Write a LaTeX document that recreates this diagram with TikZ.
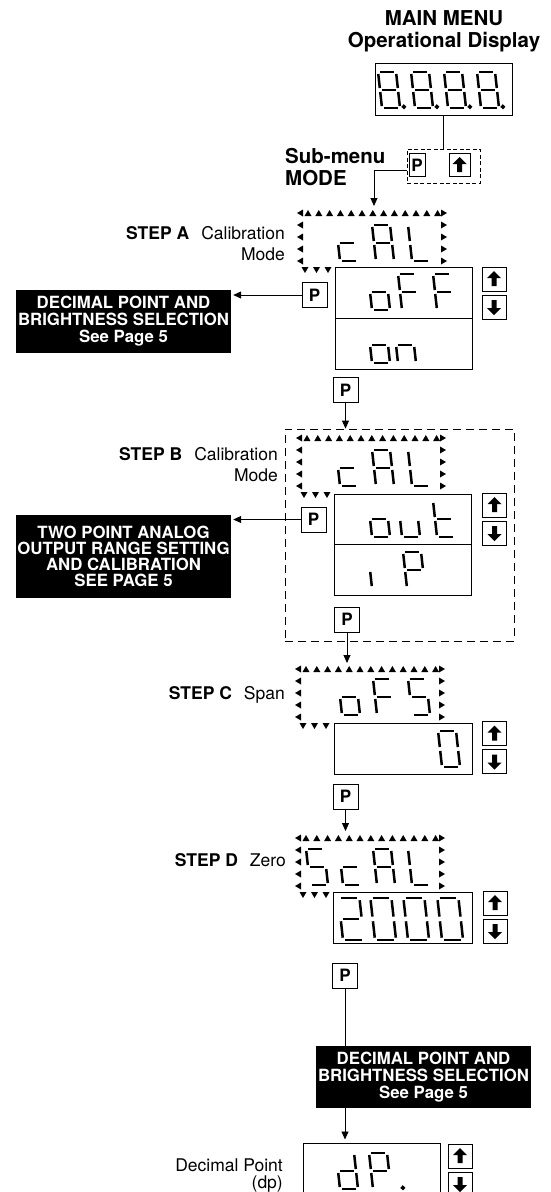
\documentclass[tikz,border=0pt]{standalone}
\usepackage{fontspec}
\setmainfont{TeX Gyre Heros}
\usetikzlibrary{positioning,arrows.meta}

% seven segment digit, 18 x 36, origin at the lower left
\def\sega{(2,36) -- (16,36)}
\def\segb{(18,34) -- (18,20)}
\def\segc{(18,16) -- (18,2)}
\def\segd{(2,0) -- (16,0)}
\def\sege{(0,2) -- (0,16)}
\def\segf{(0,20) -- (0,34)}
\def\segg{(2,18) -- (16,18)}
\def\segp{(22,1.2) circle[radius=0.8]}

% characters
\def\dgEight{a,b,c,d,e,f,g,p}
\def\dgZero{a,b,c,d,e,f}
\def\dgTwo{a,b,d,e,g}
\def\dgS{a,c,d,f,g}
\def\dgA{a,b,c,e,f,g}
\def\dgF{a,e,f,g}
\def\dgL{d,e,f}
\def\dgP{a,b,e,f,g}
\def\dgc{d,e,g}
\def\dgd{b,c,d,e,g}
\def\dgo{c,d,e,g}
\def\dgn{c,e,g}
\def\dgu{c,d,e}
\def\dgt{d,e,f,g}
\def\dgi{e}
\def\dgdot{p}

\begin{document}
\begin{tikzpicture}[x=1pt, y=-1pt,
    every node/.style={inner sep=0pt},
    txt/.style={font=\fontsize{17.5}{21}\selectfont},
    head/.style={font=\fontsize{20.5}{22}\selectfont\bfseries},
    lcd/.style={draw, line width=1pt, minimum width=137pt, minimum height=51pt},
    key/.style={draw, line width=1pt, minimum width=25pt, minimum height=25pt,
        font=\fontsize{17}{17}\selectfont\bfseries},
    arrkey/.style={draw, line width=1pt, minimum width=24pt, minimum height=24pt},
    upkey/.style={arrkey, path picture={\fill[shift={(path picture bounding box.center)}]
        (0,-8) -- (7,-1) -- (2.5,-1) -- (2.5,7) -- (-2.5,7) -- (-2.5,-1) -- (-7,-1) -- cycle;}},
    downkey/.style={arrkey, path picture={\fill[shift={(path picture bounding box.center)}]
        (0,8) -- (7,1) -- (2.5,1) -- (2.5,-7) -- (-2.5,-7) -- (-2.5,1) -- (-7,1) -- cycle;}},
    note/.style={fill=black, text=white, align=center, minimum width=215pt,
        font=\fontsize{16.8}{17}\selectfont\bfseries},
    arr/.style={-{Triangle[length=8pt,width=7pt]}, line width=0.9pt},
    segline/.style={line width=2.5pt},
    pics/digit/.style={code={
        \edef\dglist{#1}
        \begin{scope}[yscale=-1, xslant=0.11]
          \foreach \s in \dglist {\draw[segline] \csname seg\s\endcsname;}
        \end{scope}}},
    pics/blink/.style={code={
        \foreach \i in {0,...,12} \fill (8+\i*10.8,0) ++(-3.5,3) -- ++(7,0) -- ++(-3.5,-6) -- cycle;
        \foreach \j in {0,...,4} {
          \fill (0,\j*12) ++(3,-3.5) -- ++(0,7) -- ++(-6,-3.5) -- cycle;
          \fill (144,\j*12) ++(-3,-3.5) -- ++(0,7) -- ++(6,-3.5) -- cycle;
        }
        \foreach \i in {0,1,2} \fill (5+\i*11.5,57) ++(-3.5,-3) -- ++(7,0) -- ++(-3.5,6) -- cycle;}}
]
\useasboundingbox (0,0) rectangle (550,1192);

% main menu
\node[head, anchor=base] (mm) at (444,25) {MAIN MENU};
\node[head, anchor=base] (od) at (444,47) {Operational Display};
\node[lcd, minimum height=52pt] (disp) at (443.5,89) {};
\foreach \x in {382,415,448,481} \pic at (\x,108) {digit=\dgEight};
\node[draw, line width=0.8pt, dash pattern=on 4pt off 2.5pt,
    minimum width=73pt, minimum height=34pt] (mkeys) at (443.5,166) {};
\node[key, minimum width=16pt, minimum height=23pt] (mp) at (417,165) {P};
\node[upkey, minimum width=21pt, minimum height=23pt] (mup) at (459.5,165) {};
\node[head, anchor=base west] (sub) at (285,163) {Sub-menu};
\node[head, anchor=base west] (mode) at (285,185) {MODE};
\draw[line width=0.9pt] (disp.south) -- (mkeys.north);
\coordinate (inA) at (374,206);
\draw[arr] ([yshift=-4pt]mkeys.west) -| (inA);

% step A
\pic at (300,213) {blink};
\foreach \x/\ch in {340/\dgc, 376/\dgA, 412/\dgL} \pic at (\x,261) {digit=\ch};
\node[lcd] (offA) at (403.5,292.5) {};
\node[lcd] (onA) at (403.5,343.5) {};
\foreach \x/\ch in {372/\dgo, 402/\dgF, 437/\dgF} \pic at (\x,310) {digit=\ch};
\foreach \x/\ch in {372/\dgo, 398/\dgn} \pic at (\x,363) {digit=\ch};
\node[upkey] (upA) at (494,279) {};
\node[downkey, below=3pt of upA] (dnA) {};
\node[txt, anchor=base east] (stA) at (285,239) {\textbf{STEP A}\hspace{12pt}Calibration};
\node[txt, anchor=base east] (mdA) at (285,260) {Mode};
\node[key] (pA) at (314.5,295) {P};
\node[note, minimum height=63pt] (dpA) at (123.5,321.5)
    {DECIMAL POINT AND\\BRIGHTNESS SELECTION\\See Page 5};
\draw[arr, shorten >=2pt] (pA.west) -- (pA.west -| dpA.east);
\node[key] (pnA) at (345.5,390) {P};

% step B
\node[draw, line width=0.9pt, dash pattern=on 8pt off 5pt,
    minimum width=229pt, minimum height=212pt] (boxB) at (399.5,535) {};
\draw[arr] (pnA.south) -- (pnA.south |- boxB.north);
\pic at (299,438) {blink};
\foreach \x/\ch in {340/\dgc, 376/\dgA, 412/\dgL} \pic at (\x,486) {digit=\ch};
\node[lcd, minimum height=50pt] (outB) at (402.5,519) {};
\node[lcd] (ipB) at (402.5,569.5) {};
\foreach \x/\ch in {372/\dgo, 402/\dgu, 437/\dgt} \pic at (\x,537) {digit=\ch};
\foreach \x/\ch in {372/\dgi, 407/\dgP} \pic at (\x,588) {digit=\ch};
\node[upkey] (upB) at (494.5,505) {};
\node[downkey, below=3pt of upB] (dnB) {};
\node[txt, anchor=base east] (stB) at (278,460) {\textbf{STEP B}\hspace{12pt}Calibration};
\node[txt, anchor=base east] (mdB) at (278,481) {Mode};
\node[key] (pB) at (313.5,519.5) {P};
\node[note, minimum height=83pt, font=\fontsize{16.8}{16}\selectfont\bfseries] (anB) at (123.5,556.5)
    {TWO POINT ANALOG\\OUTPUT RANGE SETTING\\AND CALIBRATION\\SEE PAGE 5};
\draw[arr, shorten >=2pt] (pB.west) -- (pB.west -| anB.east);
\node[key] (pnB) at (347,619.5) {P};
\coordinate (inC) at (347,663);
\draw[arr] (pnB.south) -- (inC);

% step C
\pic at (298,669) {blink};
\foreach \x/\ch in {342/\dgo, 377/\dgF, 412/\dgS} \pic at (\x,715) {digit=\ch};
\node[lcd, minimum width=138pt] (ofsC) at (403,748.5) {};
\pic at (442,767) {digit=\dgZero};
\node[upkey] (upC) at (494.5,733.5) {};
\node[downkey, below=3pt of upC] (dnC) {};
\node[txt, anchor=base east] (stC) at (285,699) {\textbf{STEP C}\hspace{12pt}Span};
\node[key] (pC) at (345.5,796.5) {P};
\coordinate (inD) at (345.5,831);
\draw[arr] (pC.south) -- (inD);

% step D
\pic at (298,838) {blink};
\foreach \x/\ch in {310/\dgS, 343/\dgc, 377/\dgA, 412/\dgL} \pic at (\x,885) {digit=\ch};
\node[lcd, minimum width=139pt] (zeroD) at (402.5,917.5) {};
\foreach \x/\ch in {343/\dgTwo, 375/\dgZero, 408/\dgZero, 442/\dgZero}
    \pic[scale=1.17] at (\x,940) {digit=\ch};
\node[upkey] (upD) at (495,903) {};
\node[downkey, below=3pt of upD] (dnD) {};
\node[txt, anchor=base east] (stD) at (286,866) {\textbf{STEP D}\hspace{12pt}Zero};
\node[key] (pD) at (345,975.5) {P};
\node[note, minimum height=62pt] (dpE) at (423.5,1077)
    {DECIMAL POINT AND\\BRIGHTNESS SELECTION\\See Page 5};
\draw[line width=0.9pt] (pD.south) -- (pD.south |- dpE.north);

% decimal point
\node[lcd, minimum height=52pt] (dpBox) at (371.5,1169) {};
\draw[arr, shorten >=3pt] (dpE.south -| pD.south) -- (dpBox.north -| pD.south);
\foreach \x/\ch in {340/\dgd, 373/\dgP, 381/\dgdot} \pic at (\x,1189) {digit=\ch};
\node[upkey] (upE) at (460,1156) {};
\node[downkey, below=3pt of upE] (dnE) {};
\node[txt, anchor=base east] (dpt) at (283,1171) {Decimal Point};
\node[txt, anchor=base east] (dpn) at (283,1188) {(dp)};
\end{tikzpicture}
\end{document}
